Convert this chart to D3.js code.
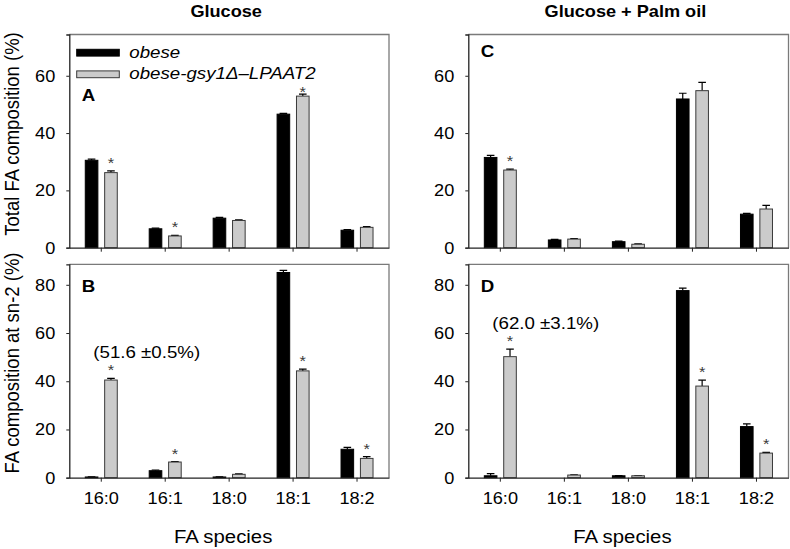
<!DOCTYPE html>
<html><head><meta charset="utf-8">
<script src="https://cdn.jsdelivr.net/npm/d3@7"></script>
<style>body{margin:0;background:#fff}svg{display:block;font-family:"Liberation Sans",Arial,sans-serif}</style>
</head><body>
<script>
const categories = ["16:0","16:1","18:0","18:1","18:2"];
const seriesNames = ["obese","obese-gsy1\u0394\u2013LPAAT2"];
// Panel A: Glucose, total FA
const A_obese = [30.5, 6.6, 10.3, 46.6, 6.1];
const A_obese_err = [0.4, 0.2, 0.3, 0.3, 0.2];
const A_mut = [26.2, 4.1, 9.5, 52.9, 7.1];
const A_mut_err = [0.6, 0.2, 0.2, 0.7, 0.3];
const A_sig = [1, 1, 0, 1, 0];
// Panel B: Glucose, sn-2
const B_obese = [0.3, 2.9, 0.3, 85.1, 11.8];
const B_obese_err = [0.1, 0.3, 0.1, 0.9, 0.8];
const B_mut = [40.5, 6.5, 1.4, 44.3, 8.0];
const B_mut_err = [0.7, 0.2, 0.2, 0.7, 0.7];
const B_sig = [1, 1, 0, 1, 1];
// Panel C: Glucose + Palm oil, total FA
const C_obese = [31.5, 2.7, 2.1, 51.9, 11.7];
const C_obese_err = [0.7, 0.2, 0.2, 2.0, 0.3];
const C_mut = [27.1, 3.0, 1.2, 54.8, 13.5];
const C_mut_err = [0.3, 0.2, 0.1, 2.9, 1.3];
const C_sig = [1, 0, 0, 0, 0];
// Panel D: Glucose + Palm oil, sn-2
const D_obese = [0.8, 0, 0.8, 77.6, 21.2];
const D_obese_err = [0.9, 0, 0.1, 1.0, 1.1];
const D_mut = [50.2, 1.1, 0.8, 38.0, 10.2];
const D_mut_err = [3.1, 0.1, 0.1, 2.5, 0.3];
const D_sig = [1, 0, 0, 1, 1];
const topTicks = [0, 20, 40, 60];
const bottomTicks = [0, 20, 40, 60, 80];
const columnTitles = ["Glucose", "Glucose + Palm oil"];
const yTitles = ["Total FA composition (%)", "FA composition at sn-2 (%)"];
const xTitle = "FA species";
const notes = {B: "(51.6 \u00b10.5%)", D: "(62.0 \u00b13.1%)"};

const W = 790, H = 549, SX = 1.1;
const svg = d3.select("body").append("svg").attr("width", W).attr("height", H);

function txt(g, x, y, s, opts) {
  const o = Object.assign({size: 16, anchor: "middle", weight: "normal", style: "normal", rot: 0, fill: "#000"}, opts || {});
  return g.append("text")
    .attr("transform", `translate(${x},${y}) scale(${SX},1)` + (o.rot ? ` rotate(${o.rot})` : ""))
    .attr("text-anchor", o.anchor).attr("font-size", o.size).attr("font-weight", o.weight)
    .attr("font-style", o.style).attr("fill", o.fill).text(s);
}

const cols = [{x0: 69.3, x1: 389}, {x0: 468.3, x1: 788.5}];
const rows = [{y0: 34.5, y1: 247.7, max: 74.4, ticks: topTicks}, {y0: 264.3, y1: 477.7, max: 88.5, ticks: bottomTicks}];

const legendBottom = 80;
const panels = [
  {c: 0, r: 0, label: "A", ob: A_obese, obe: A_obese_err, mu: A_mut, mue: A_mut_err, sig: A_sig, labelY: 100.5, legend: true},
  {c: 0, r: 1, label: "B", ob: B_obese, obe: B_obese_err, mu: B_mut, mue: B_mut_err, sig: B_sig, labelY: 291.5, note: notes.B},
  {c: 1, r: 0, label: "C", ob: C_obese, obe: C_obese_err, mu: C_mut, mue: C_mut_err, sig: C_sig, labelY: 57},
  {c: 1, r: 1, label: "D", ob: D_obese, obe: D_obese_err, mu: D_mut, mue: D_mut_err, sig: D_sig, labelY: 291.5, note: notes.D},
];

const fills = ["#000000", "#cbcbcb"];
const strokes = ["#000000", "#3a3a3a"];

panels.forEach(p => {
  const col = cols[p.c], row = rows[p.r];
  const g = svg.append("g");
  const x = d3.scaleBand().domain(categories).range([col.x0, col.x1]);
  const xs = d3.scaleBand().domain(seriesNames).range([-16, 16]).paddingInner(0.35);
  const y = d3.scaleLinear().domain([0, row.max]).range([row.y1, row.y0]);

  // frame (top and right)
  g.append("path").attr("d", `M${col.x0},${row.y0}H${col.x1}V${row.y1}`)
    .attr("fill", "none").attr("stroke", "#7a7a7a").attr("stroke-width", 1.3);

  const series = [
    {name: seriesNames[0], v: p.ob, e: p.obe, i: 0},
    {name: seriesNames[1], v: p.mu, e: p.mue, i: 1},
  ];
  series.forEach(s => {
    const items = categories.map((c, k) => ({c, v: s.v[k], e: s.e[k], sig: s.i === 1 ? p.sig[k] : 0}));
    const bx = d => x(d.c) + x.bandwidth() / 2 + xs(s.name);
    const bw = xs.bandwidth();
    const nonzero = items.filter(d => d.v > 0);
    // error bars
    g.selectAll(null).data(nonzero.filter(d => d.e > 0)).join("path")
      .attr("d", d => {
        const cx = bx(d) + bw / 2, yt = y(d.v + d.e);
        return `M${cx},${y(d.v)}V${yt}M${cx - 3.8},${yt}H${cx + 3.8}`;
      })
      .attr("stroke", "#000").attr("stroke-width", 1.2).attr("fill", "none");
    g.selectAll(null).data(nonzero).join("rect")
      .attr("x", d => bx(d)).attr("width", bw)
      .attr("y", d => y(d.v)).attr("height", d => Math.max(0.8, row.y1 - y(d.v)))
      .attr("fill", fills[s.i]).attr("stroke", strokes[s.i]).attr("stroke-width", 1);
    // significance stars (kept clear of the legend)
    items.filter(d => d.sig).forEach(d => {
      const cx = bx(d) + bw / 2;
      let cy = y(d.v + d.e) - 11;
      if (p.legend) cy = Math.max(cy, legendBottom + 9);
      txt(g, cx, cy + 8, "*", {size: 15, fill: "#3a3a3a"});
    });
  });

  // axes
  const yAxis = d3.axisLeft(y).tickValues(row.ticks).tickSize(3).tickFormat(d3.format("d"));
  const ya = g.append("g").attr("transform", `translate(${col.x0},0)`).call(yAxis);
  ya.select(".domain").attr("stroke", "#222").attr("stroke-width", 1.3);
  ya.selectAll(".tick line").attr("stroke", "#222");
  ya.selectAll(".tick text").remove();
  row.ticks.forEach(t => txt(g, col.x0 - 14, y(t) + 6, String(t), {size: 16.5, anchor: "end"}));

  const xAxis = d3.axisBottom(x).tickSize(4).tickSizeOuter(0);
  const xa = g.append("g").attr("transform", `translate(0,${row.y1})`).call(xAxis);
  xa.select(".domain").attr("stroke", "#222").attr("stroke-width", 1.3);
  xa.selectAll(".tick line").attr("stroke", "#222");
  xa.selectAll(".tick text").remove();
  if (p.r === 1) {
    categories.forEach(c => txt(g, x(c) + x.bandwidth() / 2, 504, c, {size: 16.5}));
  }

  txt(g, col.x0 + 12.5, p.labelY, p.label, {size: 17, weight: "bold", anchor: "start"});

  if (p.note) {
    const c0 = categories[0];
    const yt = y(p.mu[0] + p.mue[0]);
    txt(g, x(c0) + x.bandwidth() / 2 - 8, yt - 20, p.note, {size: 17, anchor: "start"});
  }
});

// column titles
cols.forEach((col, i) => txt(svg, (col.x0 + col.x1) / 2 - 3, 17, columnTitles[i], {size: 16.5, weight: "bold"}));
// x titles
cols.forEach(col => txt(svg, (col.x0 + col.x1) / 2 - 6, 543, xTitle, {size: 18.5}));
// y titles
txt(svg, 18.5, 134, yTitles[0], {size: 18.5, rot: -90});
txt(svg, 18.5, 363, yTitles[1], {size: 18.5, rot: -90});

// legend
const lg = svg.append("g");
seriesNames.forEach((n, i) => {
  const yy = 52.7 + i * 21.6;
  lg.append("rect").attr("x", 76.7).attr("y", yy - 3.4).attr("width", 42.6).attr("height", 6.8)
    .attr("fill", fills[i]).attr("stroke", strokes[i]).attr("stroke-width", 1);
  txt(lg, 129.3, yy + 5, n, {size: 17, anchor: "start", style: "italic"});
});
</script>
</body></html>
